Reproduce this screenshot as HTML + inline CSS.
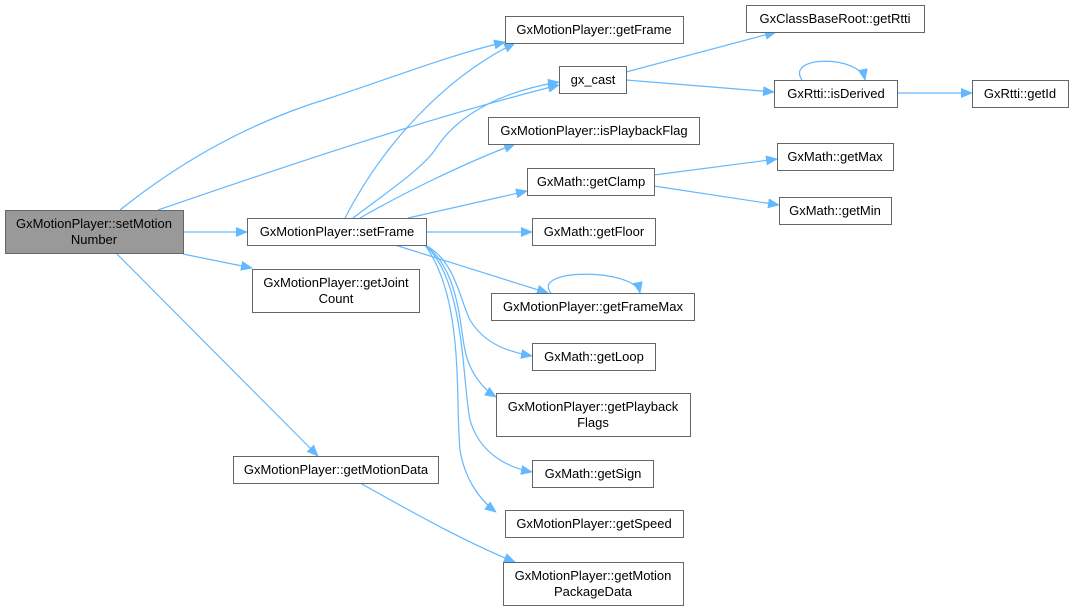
<!DOCTYPE html>
<html><head><meta charset="utf-8"><style>
html,body{margin:0;padding:0;background:#fff;width:1074px;height:611px;overflow:hidden}
svg text{font-family:"Liberation Sans",sans-serif;font-size:13px;fill:#000}
</style></head><body>
<svg width="1074" height="611" viewBox="0 0 1074 611" xmlns="http://www.w3.org/2000/svg">
<defs><marker id="a" markerWidth="12" markerHeight="10" refX="11" refY="5" orient="auto" markerUnits="userSpaceOnUse"><path d="M0,0 L12,5 L0,10 z" fill="#63b8ff"/></marker></defs>
<g fill="none" stroke="#63b8ff" stroke-width="1.2" marker-end="url(#a)">
<path d="M120,210 C170,170 240,125 330,98 C400,75 450,55 505,42"/>
<path d="M158,210 C260,175 420,120 559,85"/>
<path d="M183,232 L247,232"/>
<path d="M183,254 L252,268"/>
<path d="M117,254 L318,456"/>
<path d="M360,483 C400,505 460,540 515,562"/>
<path d="M345,218 C380,150 440,80 515,43"/>
<path d="M353,218 C390,190 420,170 435,150 C460,110 510,90 559,82"/>
<path d="M360,218 C400,195 460,165 515,144"/>
<path d="M408,218 L527,191"/>
<path d="M426,232 L532,232"/>
<path d="M395,245 L548,293"/>
<path d="M425,245 C455,260 460,300 470,320 C485,345 510,352 532,356"/>
<path d="M425,245 C460,270 460,330 465,350 C470,375 485,390 496,397"/>
<path d="M425,245 C465,280 462,380 470,420 C480,455 510,468 532,472"/>
<path d="M425,245 C465,300 455,400 460,450 C465,480 480,500 496,512"/>
<path d="M626,72 L776,32"/>
<path d="M626,80 L774,92"/>
<path d="M897,93 L972,93"/>
<path d="M802,80 C785,55 860,55 865,80"/>
<path d="M654,175 L777,159"/>
<path d="M654,186 L779,205"/>
<path d="M551,293 C530,268 635,268 640,293"/>
</g>
<g stroke="#666" stroke-width="1" fill="#fff">
<rect x="5.5" y="210.5" width="178" height="43" fill="#999"/>
<rect x="247.5" y="218.5" width="179" height="27"/>
<rect x="252.5" y="269.5" width="167" height="43"/>
<rect x="233.5" y="456.5" width="205" height="27"/>
<rect x="505.5" y="16.5" width="178" height="27"/>
<rect x="559.5" y="66.5" width="67" height="27"/>
<rect x="488.5" y="117.5" width="211" height="27"/>
<rect x="527.5" y="168.5" width="127" height="27"/>
<rect x="532.5" y="218.5" width="123" height="27"/>
<rect x="491.5" y="293.5" width="203" height="27"/>
<rect x="532.5" y="343.5" width="123" height="27"/>
<rect x="496.5" y="393.5" width="194" height="43"/>
<rect x="532.5" y="460.5" width="121" height="27"/>
<rect x="505.5" y="510.5" width="178" height="27"/>
<rect x="503.5" y="562.5" width="180" height="43"/>
<rect x="746.5" y="5.5" width="178" height="27"/>
<rect x="774.5" y="80.5" width="123" height="27"/>
<rect x="972.5" y="80.5" width="96" height="27"/>
<rect x="777.5" y="143.5" width="116" height="27"/>
<rect x="779.5" y="197.5" width="112" height="27"/>
</g>
<g text-anchor="middle">
<text x="94" y="228">GxMotionPlayer::setMotion</text><text x="94" y="244">Number</text>
<text x="337" y="236">GxMotionPlayer::setFrame</text>
<text x="336" y="287">GxMotionPlayer::getJoint</text><text x="336" y="303">Count</text>
<text x="336" y="474">GxMotionPlayer::getMotionData</text>
<text x="594" y="34">GxMotionPlayer::getFrame</text>
<text x="593" y="84">gx_cast</text>
<text x="594" y="135">GxMotionPlayer::isPlaybackFlag</text>
<text x="591" y="186">GxMath::getClamp</text>
<text x="594" y="236">GxMath::getFloor</text>
<text x="593" y="311">GxMotionPlayer::getFrameMax</text>
<text x="594" y="361">GxMath::getLoop</text>
<text x="593" y="411">GxMotionPlayer::getPlayback</text><text x="593" y="427">Flags</text>
<text x="593" y="478">GxMath::getSign</text>
<text x="594" y="528">GxMotionPlayer::getSpeed</text>
<text x="593" y="580">GxMotionPlayer::getMotion</text><text x="593" y="596">PackageData</text>
<text x="835" y="23">GxClassBaseRoot::getRtti</text>
<text x="836" y="98">GxRtti::isDerived</text>
<text x="1020" y="98">GxRtti::getId</text>
<text x="835" y="161">GxMath::getMax</text>
<text x="835" y="215">GxMath::getMin</text>
</g>
</svg>
</body></html>
